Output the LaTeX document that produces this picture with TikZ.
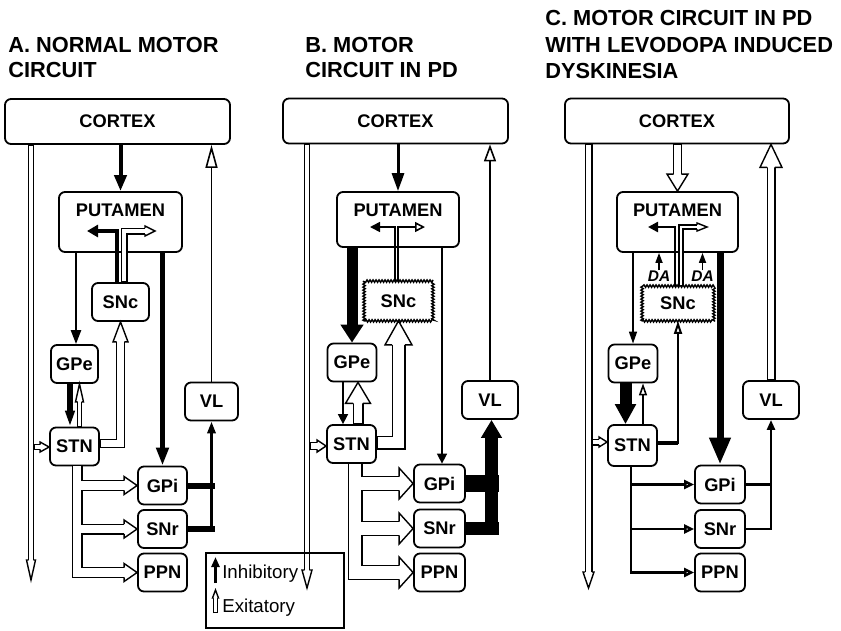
\documentclass[tikz,border=0pt]{standalone}
\usepackage{fontspec}
\setmainfont{Liberation Sans}
\usetikzlibrary{arrows.meta,calc,decorations.pathmorphing}

\tikzset{
  nuc/.style={draw,line width=0.45mm,rounded corners=1.5mm,inner sep=0pt,minimum width=12.25mm,minimum height=9.5mm,font=\bfseries\fontsize{13}{15}\selectfont},
  ctx/.style={nuc,minimum width=56.25mm,minimum height=11.25mm},
  sick/.style={nuc,draw=none},
  zz/.style={line width=0.35mm,decorate,decoration={zigzag,segment length=0.75mm,amplitude=0.3mm}},
  title/.style={anchor=base west,inner sep=0pt,font=\bfseries\fontsize{15.5}{18}\selectfont},
  dbl/.style 2 args={preaction={draw=black,line width=#1,shorten <=0pt},draw=white,line width=#2,shorten <=0.6pt},
  pics/ohead/.style n args={3}{code={
    \draw[fill=white,line width=0.35mm,line join=miter] (-#3,#1) -- (-#3,#2) -- (0,0) -- (-#3,-#2) -- (-#3,-#1);}},
}

\begin{document}
\begin{tikzpicture}[x=0.25mm,y=-0.25mm]
  \useasboundingbox (0,0) rectangle (841,630);
  \node[title] (titA1) at (8,52) {A. NORMAL MOTOR};
  \node[title] (titA2) at (8,77) {CIRCUIT};
  \node[title] (titB1) at (305,52) {B. MOTOR};
  \node[title] (titB2) at (305,77) {CIRCUIT IN PD};
  \node[title] (titC1) at (545,25) {C. MOTOR CIRCUIT IN PD};
  \node[title] (titC2) at (545,52) {WITH LEVODOPA INDUCED};
  \node[title] (titC3) at (545,78) {DYSKINESIA};

  % A: normal
  \node[ctx] (ctxA) at (117.5,121.5) {CORTEX};
  \node[nuc,minimum width=30.75mm,text height=6mm,text depth=9mm] (putA) at (120.5,222) {PUTAMEN};
  \node[nuc,minimum width=14.25mm] (snA) at (120.5,302) {SNc};
  \node[nuc,minimum width=11.75mm] (gpeA) at (74.5,364) {GPe};
  \node[nuc] (stnA) at (74.5,446.5) {STN};
  \node[nuc,minimum width=13.25mm] (vlA) at (211.5,401.5) {VL};
  \node[nuc] (gpiA) at (162.5,485.5) {GPi};
  \node[nuc] (snrA) at (162.5,529) {SNr};
  \node[nuc] (ppnA) at (162.5,572.5) {PPN};

  \draw[line width=1mm,-{Triangle[length=4mm,width=3mm]}] (ctxA.south -| putA.north) -- (putA.north);
  \draw[line width=1mm,-{Triangle[length=2.75mm,width=3mm]}] (snA.north -| 117,0) |- (87,231);
  \draw[dbl={1.75mm}{1.05mm},shorten >=2.5mm] (snA.north -| 124,0) |- (155,231);
  \pic at (155,231) {ohead={3}{5}{10}};
  \draw[line width=0.6mm,-{Triangle[length=3.5mm,width=2.5mm]}] (putA.south -| 76,0) -- (gpeA.north -| 76,0);
  \draw[line width=1.25mm,-{Triangle[length=4.5mm,width=3mm]}] (putA.south -| gpiA.north) -- (gpiA.north);
  \draw[line width=1.4mm,-{Triangle[length=4mm,width=2.25mm]}] (gpeA.south -| 70,0) -- (stnA.north -| 70,0);
  \draw[dbl={1.3mm}{0.6mm},shorten >=4.5mm] (stnA.north -| 79.5,0) -- (gpeA.south -| 79.5,0);
  \pic[rotate=90] at (gpeA.south -| 79.5,0) {ohead={2}{4}{18}};
  \draw[dbl={2.25mm}{1.55mm},shorten >=5mm] (stnA.east |- 0,443.5) -| (snA.south);
  \pic[rotate=90] at (snA.south) {ohead={3.8}{7.5}{20}};
  \draw[dbl={1.5mm}{0.8mm},shorten >=5mm] (ctxA.south -| 31,0) -- (31,580);
  \pic[rotate=-90] at (31,580) {ohead={2.3}{4.5}{20}};
  \draw[dbl={1.5mm}{0.8mm},shorten >=2.25mm] (34,447) -- (stnA.west |- 0,447);
  \pic at (stnA.west |- 0,447) {ohead={2.3}{5}{9}};
  \draw[line width=0.4mm,-{Triangle[open,length=5.75mm,width=3mm]}] (vlA.north) -- (vlA.north |- ctxA.south);
  \draw[line width=1.5mm] (gpiA.east) -- ++(27,0);
  \draw[line width=1.5mm] (snrA.east) -- ++(27,0);
  \draw[line width=0.75mm,-{Triangle[length=3mm,width=2mm]}] (snrA.east -| vlA.south) -- (vlA.south);
  \draw[dbl={2.75mm}{2.05mm}] (stnA.south -| 77,0) |- ($(ppnA.west)+(-13,0)$)
    (gpiA.west -| 77,0) -- ($(gpiA.west)+(-13,0)$) (snrA.west -| 77,0) -- ($(snrA.west)+(-13,0)$);
  \foreach \n in {gpiA,snrA,ppnA} \pic at (\n.west) {ohead={4.8}{9}{13}};

  % B: PD
  \node[ctx] (ctxB) at (395.5,121) {CORTEX};
  \node[nuc,minimum width=30.5mm,text height=6mm,text depth=7.75mm] (putB) at (398,219.5) {PUTAMEN};
  \node[sick,minimum width=16.75mm] (snB) at (398.5,301) {SNc};
  \draw[zz] (snB.south west) rectangle (snB.north east);
  \node[nuc] (gpeB) at (352,362.5) {GPe};
  \node[nuc] (stnB) at (351.5,444) {STN};
  \node[nuc,minimum width=14mm] (vlB) at (490,400) {VL};
  \node[nuc,minimum width=12.75mm] (gpiB) at (439.5,483.5) {GPi};
  \node[nuc,minimum width=12.75mm] (snrB) at (439.5,528.5) {SNr};
  \node[nuc,minimum width=12.75mm] (ppnB) at (439.5,572.5) {PPN};

  \draw[line width=0.75mm,-{Triangle[length=4.5mm,width=3mm]}] (ctxB.south -| putB.north) -- (putB.north);
  \draw[line width=0.4mm,-{Triangle[length=2.5mm,width=2.5mm]}] (snB.north -| 395,0) |- (370,227);
  \draw[line width=0.4mm,-{Triangle[open,length=2.5mm,width=2.5mm]}] (snB.north -| 398,0) |- (425,227);
  \draw[line width=2.75mm,-{Triangle[length=4.5mm,width=5.5mm]}] (putB.south -| gpeB.north) -- (gpeB.north);
  \draw[line width=0.4mm,-{Triangle[length=2.5mm,width=2.5mm]}] (putB.south -| 442,0) -- (gpiB.north -| 442,0);
  \draw[line width=0.4mm,-{Triangle[length=2.5mm,width=2.5mm]}] (gpeB.south -| 343,0) -- (stnB.north -| 343,0);
  \draw[dbl={2.75mm}{2.05mm},shorten >=5.25mm] (stnB.north -| 358,0) -- (gpeB.south -| 358,0);
  \pic[rotate=90] at (gpeB.south -| 358,0) {ohead={4.8}{12.5}{21}};
  \draw[dbl={3.5mm}{2.8mm},shorten >=6mm] (stnB.east |- 0,442.5) -| (snB.south);
  \pic[rotate=90] at (snB.south) {ohead={6.3}{13.5}{24}};
  \draw[dbl={1.5mm}{0.8mm},shorten >=4.5mm] (ctxB.south -| 307,0) -- (307,588);
  \pic[rotate=-90] at (307,588) {ohead={2.3}{5}{18}};
  \draw[dbl={2mm}{1.3mm},shorten >=2.25mm] (310,446) -- (stnB.west |- 0,446);
  \pic at (stnB.west |- 0,446) {ohead={3.3}{6}{9}};
  \draw[line width=0.4mm,-{Triangle[open,length=4.25mm,width=3mm]}] (vlB.north) -- (vlB.north |- ctxB.south);
  \draw[line width=4.25mm] (gpiB.east) -- ++(33,0);
  \draw[line width=3.25mm] (snrB.east) -- ++(33,0);
  \draw[line width=3.25mm,-{Triangle[length=4.5mm,width=5mm]}] (snrB.east -| 491.5,0) -- (vlB.south -| 491.5,0);
  \draw[dbl={3.75mm}{3.05mm}] (stnB.south -| 355,0) |- ($(ppnB.west)+(-14,0)$)
    (gpiB.west -| 355,0) -- ($(gpiB.west)+(-14,0)$) (snrB.west -| 355,0) -- ($(snrB.west)+(-14,0)$);
  \foreach \n in {gpiB,snrB,ppnB} \pic at (\n.west) {ohead={6.8}{15.5}{14}};

  % legend
  \node[draw,line width=0.3mm,minimum width=34.5mm,minimum height=18.75mm] (legB) at (275,590.5) {};
  \node[anchor=base west,inner sep=0pt,font=\fontsize{13.3}{15}\selectfont] (inhL) at (222,578) {Inhibitory};
  \node[anchor=base west,inner sep=0pt,font=\fontsize{13.3}{15}\selectfont] (excL) at (222,612) {Exitatory};
  \draw[line width=0.9mm,-{Triangle[length=2.5mm,width=2mm]}] (215.5,583) -- (215.5,557);
  \draw[dbl={1.25mm}{0.55mm},shorten >=2mm] (215.5,613) -- (215.5,590);
  \pic[rotate=90] at (215.5,590) {ohead={1.8}{3}{8}};

  % C: levodopa dyskinesia
  \node[ctx,minimum width=56mm] (ctxC) at (677,121) {CORTEX};
  \node[nuc,minimum width=30.25mm,text height=6mm,text depth=9mm] (putC) at (677.5,222) {PUTAMEN};
  \node[sick,minimum width=17.5mm,minimum height=8.25mm] (snC) at (678,303.5) {SNc};
  \draw[zz] (snC.south west) rectangle (snC.north east);
  \node[nuc] (gpeC) at (633,363.5) {GPe};
  \node[nuc,minimum height=10.25mm] (stnC) at (632.5,445.5) {STN};
  \node[nuc,minimum width=14mm] (vlC) at (771,400) {VL};
  \node[nuc,minimum width=12.5mm] (gpiC) at (720,484.5) {GPi};
  \node[nuc,minimum width=12.5mm] (snrC) at (720,529) {SNr};
  \node[nuc,minimum width=12.5mm] (ppnC) at (720,572.5) {PPN};
  \node[inner sep=0pt,font=\bfseries\itshape\fontsize{11}{13}\selectfont] (daC1) at (659,276) {DA};
  \node[inner sep=0pt,font=\bfseries\itshape\fontsize{11}{13}\selectfont] (daC2) at (702.5,276) {DA};

  \draw[dbl={2.25mm}{1.55mm},shorten >=4.25mm] (ctxC.south -| putC.north) -- (putC.north);
  \pic[rotate=-90] at (putC.north) {ohead={3.8}{10.5}{17}};
  \draw[line width=0.6mm,-{Triangle[length=2.5mm,width=2.5mm]}] (snC.north -| 675,0) |- (648,227);
  \draw[dbl={1.4mm}{0.7mm},shorten >=2.5mm] (snC.north -| 681,0) |- (707,227);
  \pic at (707,227) {ohead={2.1}{4}{10}};
  \draw[line width=0.4mm,-{Triangle[length=2.5mm,width=1.75mm]}] (daC1.north) -- (daC1.north |- putC.south);
  \draw[line width=0.4mm,-{Triangle[length=2.5mm,width=1.75mm]}] (daC2.north) -- (daC2.north |- putC.south);
  \draw[line width=0.4mm,-{Triangle[length=3mm,width=2mm]}] (putC.south -| gpeC.north) -- (gpeC.north);
  \draw[line width=1.75mm,-{Triangle[length=6.75mm,width=5mm]}] (putC.south -| gpiC.north) -- (gpiC.north);
  \draw[line width=3mm,-{Triangle[length=5mm,width=5mm]}] (gpeC.south -| 625.5,0) -- (stnC.north -| 625.5,0);
  \draw[line width=0.4mm,-{Triangle[open,length=3mm,width=2mm]}] (stnC.north -| 643,0) -- (gpeC.south -| 643,0);
  \draw[line width=1mm] (stnC.east |- 0,443) -- (snC.south |- 0,443);
  \draw[line width=0.5mm,-{Triangle[open,length=3.25mm,width=2mm]}] (stnC.east |- 0,443) -| (snC.south);
  \draw[dbl={2mm}{1.3mm},shorten >=4mm] (ctxC.south -| 588.5,0) -- (588.5,588);
  \pic[rotate=-90] at (588.5,588) {ohead={3.3}{5.5}{16}};
  \draw[dbl={1.75mm}{1.05mm},shorten >=2mm] (592.5,442) -- (stnC.west |- 0,442);
  \pic at (stnC.west |- 0,442) {ohead={2.8}{5}{8}};
  \draw[dbl={2.25mm}{1.55mm},shorten >=5.75mm] (vlC.north) -- (vlC.north |- ctxC.south);
  \pic[rotate=90] at (vlC.north |- ctxC.south) {ohead={3.8}{11}{23}};
  \draw[line width=0.6mm] (gpiC.east) -- (gpiC.east -| vlC.south);
  \draw[line width=0.6mm,-{Triangle[length=2.5mm,width=2mm]}] (snrC.east) -| (vlC.south);
  \draw[line width=0.6mm,-{Triangle[open,length=2.5mm,width=2.25mm]}] (stnC.south -| 631,0) |- (ppnC.west);
  \draw[line width=0.6mm,-{Triangle[open,length=2.5mm,width=2.25mm]}] (gpiC.west -| 631,0) -- (gpiC.west);
  \draw[line width=0.6mm,-{Triangle[open,length=2.5mm,width=2.25mm]}] (snrC.west -| 631,0) -- (snrC.west);
\end{tikzpicture}
\end{document}
